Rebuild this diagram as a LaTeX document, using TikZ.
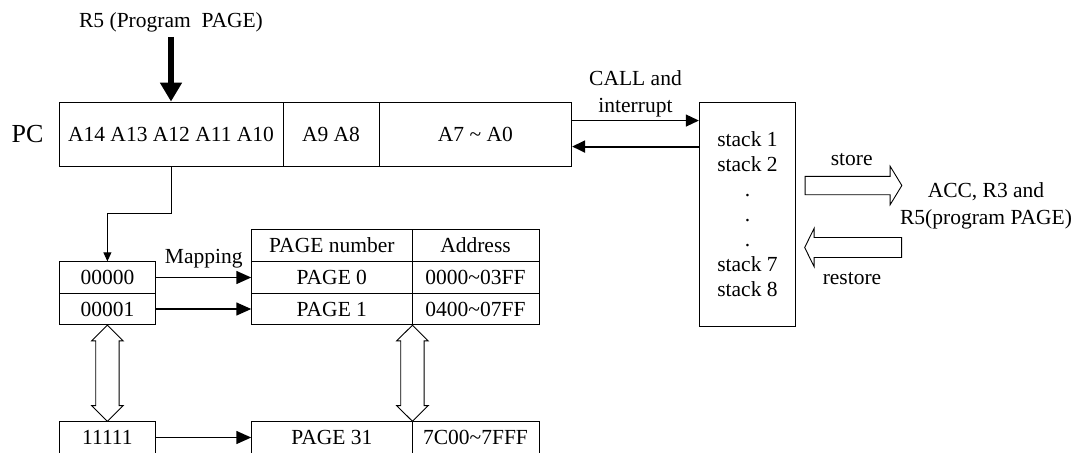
\documentclass[tikz,border=0pt]{standalone}
\usepackage{fontspec}
\setmainfont{Liberation Serif}
\usetikzlibrary{arrows.meta,calc}
\begin{document}
\begin{tikzpicture}[x=1pt,y=-1pt,
  font=\fontsize{21.5}{27}\selectfont,
  cell/.style={draw,line width=0.9pt,inner sep=0pt,anchor=center},
  thinarrow/.style={line width=0.9pt,-{Triangle[length=9pt,width=8pt]}},
  maparrow/.style={line width=1.5pt,-{Triangle[length=15pt,width=13pt]}},
  callarrow/.style={line width=1.3pt,-{Triangle[length=13pt,width=12pt]}},
  retarrow/.style={line width=2pt,-{Triangle[length=13pt,width=12pt]}},
  bigarrow/.style={line width=6pt,-{Triangle[length=19pt,width=21pt]}},
  hollow/.style={draw,line width=0.9pt,fill=white,line join=miter}]
\useasboundingbox (0,0) rectangle (1075,452);

% PC register
\node[font=\fontsize{26}{30}\selectfont] (pclabel) at (27.5,134) {PC};
\node[cell,minimum width=224pt,minimum height=64pt] (pc1) at (171,134) {A14 A13 A12 A11 A10};
\node[cell,minimum width=96pt,minimum height=64pt] (pc2) at (331,134) {A9 A8};
\node[cell,minimum width=192.7pt,minimum height=64pt] (pc3) at (475.35,134) {A7 \char`~{} A0};

% R5 label and thick arrow
\node[inner sep=2pt] (r5) at (171,22) {R5 (Program\ \ PAGE)};
\draw[bigarrow] ($(r5.south)+(0,3)$) -- (pc1.north);

% Stack
\node[cell,minimum width=96.4pt,minimum height=224pt,align=center,
      font=\fontsize{21.5}{25}\selectfont] (stack) at (747.5,214)
  {stack 1\\stack 2\\.\\.\\.\\stack 7\\stack 8};

\draw[callarrow] ($(pc3.north east)+(0,19)$) -- node[above=1pt,align=center,inner sep=2pt] (calllbl) {CALL and\\interrupt} ($(stack.north west)+(0,19)$);
\draw[retarrow] ($(stack.north west)+(0,45)$) -- ($(pc3.north east)+(0,45)$);

% ACC text
\node[align=center] (acc) at (986,206) {ACC, R3 and\\R5(program PAGE)};

% store arrow (hollow, right)
\coordinate (st0) at ($(stack.east)+(9,-28.5)$);
\draw[hollow] (st0) ++(0,-9.2) -- ++(85,0) -- ++(0,-10) -- ++(11.7,19.2) -- ++(-11.7,19.2) -- ++(0,-10) -- ++(-85,0) -- cycle;
\node (storelbl) at (851.7,160) {store};

% restore arrow (hollow, left)
\coordinate (rs0) at ($(stack.east)+(8.5,33.5)$);
\draw[hollow] (rs0) -- ++(9.5,-19.2) -- ++(0,9.2) -- ++(87.5,0) -- ++(0,20) -- ++(-87.5,0) -- ++(0,9.2) -- cycle;
\node (restorelbl) at (852,279) {restore};

% left table
\node[cell,minimum width=96.7pt,minimum height=31.5pt] (r0) at (107.4,277.5) {00000};
\node[cell,minimum width=96.7pt,minimum height=31.5pt] (r1) at (107.4,309) {00001};
\node[cell,minimum width=96.7pt,minimum height=31.5pt] (r31) at (107.4,437.5) {11111};

% right table
\node[cell,minimum width=160.3pt,minimum height=32.4pt] (h1) at (331.85,245.5) {PAGE number};
\node[cell,minimum width=127pt,minimum height=32.4pt] (h2) at (475.5,245.5) {Address};
\node[cell,minimum width=160.3pt,minimum height=31.5pt] (p0) at (331.85,277.5) {PAGE 0};
\node[cell,minimum width=127pt,minimum height=31.5pt] (a0) at (475.5,277.5) {0000\char`~03FF};
\node[cell,minimum width=160.3pt,minimum height=31.5pt] (p1) at (331.85,309) {PAGE 1};
\node[cell,minimum width=127pt,minimum height=31.5pt] (a1) at (475.5,309) {0400\char`~07FF};
\node[cell,minimum width=160.3pt,minimum height=31.5pt] (p31) at (331.85,437.5) {PAGE 31};
\node[cell,minimum width=127pt,minimum height=31.5pt] (a31) at (475.5,437.5) {7C00\char`~7FFF};

% PC -> left table
\draw[thinarrow] (pc1.south) -- ++(0,47) -| (r0.north);

% mapping arrows
\draw[maparrow] (r0.east) -- node[above=6.5pt,inner sep=2pt] (maplbl) {Mapping} (p0.west);
\draw[maparrow] (r1.east) -- (p1.west);
\draw[maparrow] (r31.east) -- (p31.west);

% vertical double hollow arrows
\foreach \t/\b in {r1.south/r31.north, p1.south east/p31.north east}{
  \draw[hollow] (\t) -- ($(\t)+(15.8,15.7)$) -- ($(\t)+(11.7,15.7)$) -- ($(\b)+(11.7,-15.7)$) -- ($(\b)+(15.8,-15.7)$) -- (\b)
     -- ($(\b)+(-15.8,-15.7)$) -- ($(\b)+(-11.7,-15.7)$) -- ($(\t)+(-11.7,15.7)$) -- ($(\t)+(-15.8,15.7)$) -- cycle;
}
\end{tikzpicture}
\end{document}
